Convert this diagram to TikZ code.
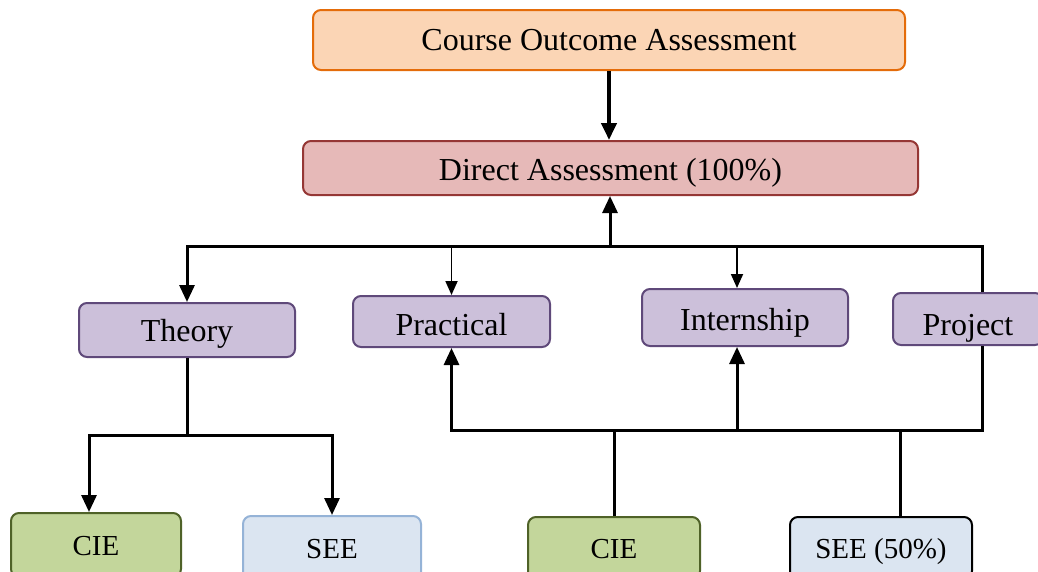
\documentclass[tikz,border=0pt]{standalone}
\usepackage{fontspec}
\setmainfont{Liberation Serif}
\usetikzlibrary{arrows.meta}

\definecolor{peachfill}{HTML}{FBD5B5}
\definecolor{peachline}{HTML}{E46C0A}
\definecolor{rosefill}{HTML}{E6B9B8}
\definecolor{roseline}{HTML}{953735}
\definecolor{lilacfill}{HTML}{CCC0DA}
\definecolor{lilacline}{HTML}{5F497A}
\definecolor{olivefill}{HTML}{C3D69B}
\definecolor{oliveline}{HTML}{4F6228}
\definecolor{skyfill}{HTML}{DBE5F1}
\definecolor{skyline}{HTML}{95B3D7}

\tikzset{
  box/.style={draw, line width=2pt, rounded corners=8pt, inner sep=0pt,
    text height=24pt, text depth=0pt,
    font=\fontsize{32}{36}\selectfont},
  lowbox/.style={box, text height=20pt, font=\fontsize{29}{34}\selectfont},
  topbox/.style={box, fill=peachfill, draw=peachline, text height=20pt},
  directbox/.style={box, fill=rosefill, draw=roseline},
  kindbox/.style={box, fill=lilacfill, draw=lilacline},
  ciebox/.style={lowbox, fill=olivefill, draw=oliveline},
  seebox/.style={lowbox, fill=skyfill, draw=skyline},
  conn/.style={line width=3pt, line join=miter},
  tip/.style={-{Triangle[width=15pt,length=17pt]}},
  thinconn/.style={line width=1.8pt, -{Triangle[width=12pt,length=14pt]}},
}

\begin{document}
\begin{tikzpicture}[x=1pt, y=-1pt]
\useasboundingbox (0,0) rectangle (1038,571);

% boxes
\node[topbox, minimum width=592pt, minimum height=60pt] (coa) at (609,40) {Course Outcome Assessment};
\node[directbox, minimum width=615pt, minimum height=54pt] (da) at (610.5,168) {Direct Assessment (100\%)};

\node[kindbox, text height=22pt, minimum width=216pt, minimum height=54pt] (theory) at (187,330) {Theory};
\node[kindbox, text height=27pt, minimum width=197pt, minimum height=51pt] (prac) at (451.5,321.5) {Practical};
\node[kindbox, text height=25pt, minimum width=206pt, minimum height=57pt] (intern) at (745,317.5) {Internship};
\node[kindbox, text height=32pt, minimum width=150pt, minimum height=52pt] (proj) at (968,319) {Project};

\node[ciebox, minimum width=170pt, minimum height=64pt] (cieA) at (96,545) {CIE};
\node[seebox, minimum width=178pt, minimum height=64pt] (seeA) at (332,548) {SEE};
\node[ciebox, minimum width=172pt, minimum height=62pt] (cieB) at (614,548) {CIE};
\node[lowbox, fill=skyfill, draw=black, minimum width=182pt, minimum height=62pt] (seeB) at (881,548) {SEE (50\%)};

% reference points of the buses
\coordinate (up) at (610,246);
\coordinate (low) at (0,430);
\coordinate (tlow) at (0,435);
\coordinate (projx) at (982,0);
\coordinate (intx) at (737,0);
\coordinate (seex) at (900,0);
\coordinate (ciex) at (89,0);

% top arrow
\draw[line width=4pt, tip] (coa.south) -- (coa.south |- da.north);

% upper bus
\draw[conn, tip] (up) -- (up |- da.south);
\draw[conn, tip] (up) -| (theory.north);
\draw[conn] (up) -| (projx |- proj.north);
\draw[thinconn] (prac.north |- up) -- (prac.north);
\draw[thinconn] (intx |- up) -- (intx |- intern.north);

% lower bus
\draw[conn, tip] (projx |- proj.south) -- (projx |- low) -- (prac.south |- low) -- (prac.south);
\draw[conn, tip] (intx |- low) -- (intx |- intern.south);
\draw[conn] (cieB.north) -- (cieB.north |- low);
\draw[conn] (seex |- seeB.north) -- (seex |- low);

% theory split
\draw[conn] (theory.south) -- (theory.south |- tlow);
\draw[conn, tip] (theory.south |- tlow) -| (ciex |- cieA.north);
\draw[conn, tip] (theory.south |- tlow) -| (seeA.north);
\end{tikzpicture}
\end{document}
